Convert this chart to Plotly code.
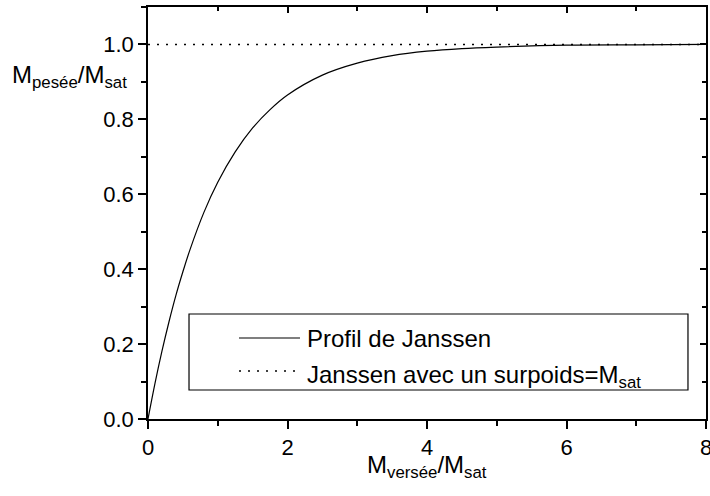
import plotly.graph_objects as go

# Janssen profile
x_janssen = [0, 0.1, 0.2, 0.3, 0.4, 0.5, 0.6, 0.8, 1.0, 1.25, 1.5, 1.75, 2.0,
             2.5, 3.0, 3.5, 4.0, 4.5, 5.0, 6.0, 7.0, 8.0]
y_janssen = [0, 0.095, 0.181, 0.259, 0.330, 0.393, 0.451, 0.551, 0.632, 0.713,
             0.777, 0.826, 0.865, 0.918, 0.950, 0.970, 0.982, 0.989, 0.993,
             0.998, 0.999, 1.000]

# Janssen with overweight = M_sat (flat at saturation)
x_surpoids = [0, 8]
y_surpoids = [1.0, 1.0]

LABELS = ["Profil de Janssen", "Janssen avec un surpoids=M<sub>sat</sub>"]

FONT = "Arial, 'Liberation Sans', sans-serif"
BLACK = "#000000"
DOTS = "2px,7px"

fig = go.Figure()

fig.add_trace(go.Scatter(
    x=x_janssen, y=y_janssen, mode="lines", line_shape="spline",
    name=LABELS[0], showlegend=False,
    line=dict(color=BLACK, width=1.2),
))
fig.add_trace(go.Scatter(
    x=x_surpoids, y=y_surpoids, mode="lines",
    name=LABELS[1], showlegend=False,
    line=dict(color=BLACK, width=1.6, dash=DOTS),
    xaxis="x2", yaxis="y2",
))

axis_common = dict(
    showgrid=False, zeroline=False, showline=True, automargin=False,
    linecolor=BLACK, linewidth=1.6,
    tickcolor=BLACK, tickwidth=1.6,
)

# Origin-style legend box, drawn in paper coordinates
legend_shapes = [
    dict(type="rect", xref="paper", yref="paper", x0=0.0735, x1=0.9677,
         y0=0.0704, y1=0.2549, line=dict(color=BLACK, width=1.2), fillcolor="white",
         layer="above"),
    dict(type="line", xref="paper", yref="paper", x0=0.1631, x1=0.2724,
         y0=0.1966, y1=0.1966, line=dict(color=BLACK, width=1.2), layer="above"),
    dict(type="line", xref="paper", yref="paper", x0=0.1631, x1=0.2724,
         y0=0.1165, y1=0.1165, line=dict(color=BLACK, width=1.6, dash=DOTS), layer="above"),
]

fig.update_layout(
    width=710, height=496,
    paper_bgcolor="white", plot_bgcolor="white",
    margin=dict(l=148, r=4, t=7, b=77),
    font=dict(family=FONT, color=BLACK, size=22),
    showlegend=False,
    xaxis=dict(
        range=[0, 8], dtick=2, tick0=0, ticks="outside", ticklen=8,
        ticklabeloverflow="allow",
        minor=dict(dtick=1, ticks="outside", ticklen=5, tickcolor=BLACK, tickwidth=1.6),
        **axis_common,
    ),
    yaxis=dict(
        range=[0, 1.1], dtick=0.2, tick0=0, ticks="outside", ticklen=8,
        tickformat=".1f",
        minor=dict(dtick=0.1, ticks="outside", ticklen=5, tickcolor=BLACK, tickwidth=1.6),
        **axis_common,
    ),
    xaxis2=dict(
        range=[0, 8], overlaying="x", side="top", anchor="y2", matches="x",
        dtick=2, tick0=0, ticks="inside", ticklen=6, showticklabels=False,
        minor=dict(dtick=1, ticks="inside", ticklen=4, tickcolor=BLACK, tickwidth=1.6),
        **axis_common,
    ),
    yaxis2=dict(
        range=[0, 1.1], overlaying="y", side="right", anchor="x2", matches="y",
        dtick=0.2, tick0=0, ticks="inside", ticklen=6, showticklabels=False,
        minor=dict(dtick=0.1, ticks="inside", ticklen=4, tickcolor=BLACK, tickwidth=1.6),
        **axis_common,
    ),
    shapes=legend_shapes,
    annotations=[
        dict(text="M<sub>pesée</sub>/M<sub>sat</sub>", xref="paper", yref="paper",
             x=-0.247, y=0.832, xanchor="left", yanchor="middle", showarrow=False,
             font=dict(size=24, family=FONT)),
        dict(text="M<sub>versée</sub>/M<sub>sat</sub>", xref="paper", yref="paper",
             x=0.5, y=-0.115, xanchor="center", yanchor="middle", showarrow=False,
             font=dict(size=24, family=FONT)),
        dict(text=LABELS[0], xref="paper", yref="paper",
             x=0.2814, y=0.1966, xanchor="left", yanchor="middle", showarrow=False,
             font=dict(size=24, family=FONT)),
        dict(text=LABELS[1], xref="paper", yref="paper",
             x=0.2814, y=0.104, xanchor="left", yanchor="middle", showarrow=False,
             font=dict(size=24, family=FONT)),
    ],
)

fig.write_html("out.html", config={"displayModeBar": False},
               post_script="document.body.style.margin='0';")
